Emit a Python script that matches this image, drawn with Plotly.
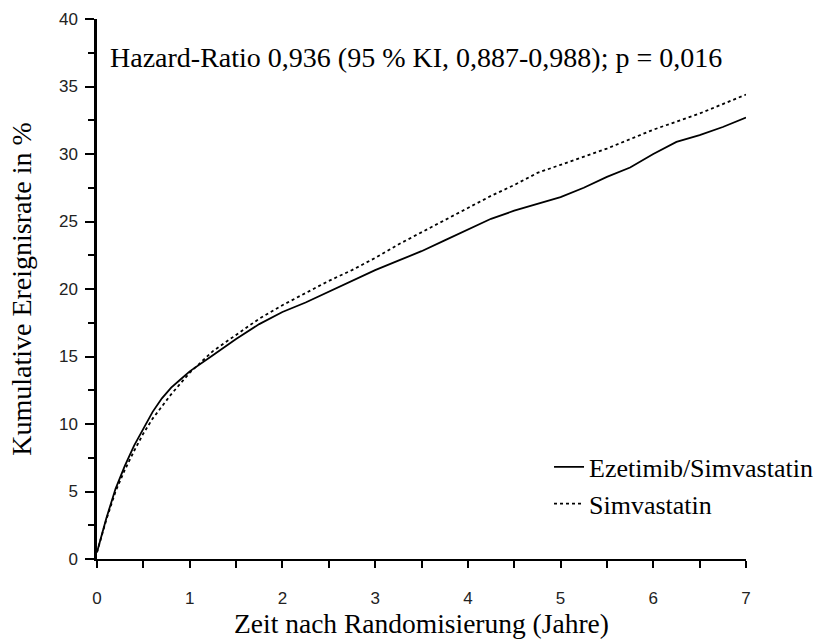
import plotly.graph_objects as go

years = [0, 0.05, 0.1, 0.2, 0.3, 0.4, 0.5, 0.6, 0.7, 0.8, 0.9, 1.0, 1.25, 1.5, 1.75,
         2.0, 2.25, 2.5, 2.75, 3.0, 3.25, 3.5, 3.75, 4.0, 4.25, 4.5, 4.75, 5.0,
         5.25, 5.5, 5.75, 6.0, 6.25, 6.5, 6.75, 7.0]
ezetimib_simvastatin = [0.5, 1.8, 3.0, 5.2, 6.9, 8.4, 9.7, 10.9, 11.9, 12.7, 13.3, 13.9,
                        15.1, 16.3, 17.4, 18.3, 19.0, 19.8, 20.6, 21.4, 22.1, 22.8, 23.6,
                        24.4, 25.2, 25.8, 26.3, 26.8, 27.5, 28.3, 29.0, 30.0, 30.9, 31.4,
                        32.0, 32.7]
simvastatin = [0.5, 1.7, 2.9, 5.0, 6.6, 8.0, 9.3, 10.4, 11.3, 12.2, 13.0, 13.8,
               15.4, 16.6, 17.8, 18.8, 19.7, 20.6, 21.4, 22.3, 23.3, 24.2, 25.1,
               26.0, 26.9, 27.7, 28.6, 29.2, 29.8, 30.4, 31.1, 31.8, 32.4, 33.0,
               33.7, 34.4]

serif = "Liberation Serif, Times New Roman, serif"
sans = "Liberation Sans, Arial, sans-serif"

fig = go.Figure()
fig.add_trace(go.Scatter(x=years, y=ezetimib_simvastatin, mode="lines",
                         name="Ezetimib/Simvastatin",
                         line=dict(color="black", width=1.8)))
fig.add_trace(go.Scatter(x=years, y=simvastatin, mode="lines",
                         name="Simvastatin",
                         line=dict(color="black", width=1.8, dash="3px,3px")))

fig.add_annotation(x=0.017, y=0.929, xref="paper", yref="paper",
                   xanchor="left", yanchor="middle", showarrow=False,
                   text="Hazard-Ratio 0,936 (95 % KI, 0,887-0,988); p = 0,016",
                   font=dict(family=serif, size=28, color="black"))

fig.update_layout(
    width=835, height=640,
    margin=dict(l=97, r=89, t=19, b=81),
    paper_bgcolor="white", plot_bgcolor="white",
    showlegend=True,
    legend=dict(x=0.6965, y=0.214, xanchor="left", yanchor="top",
                bgcolor="rgba(0,0,0,0)", font=dict(family=serif, size=26, color="black"),
                itemwidth=30, tracegroupgap=0),
)
fig.update_xaxes(range=[0, 7], dtick=1, tick0=0, showgrid=False, zeroline=False,
                 automargin=False,
                 showline=True, linecolor="black", linewidth=2,
                 ticks="outside", ticklen=7, tickwidth=2, tickcolor="black",
                 minor=dict(dtick=0.5, ticks="outside", ticklen=7, tickwidth=2,
                            tickcolor="black", showgrid=False),
                 ticklabelstandoff=16,
                 tickfont=dict(family=sans, size=17, color="#222"),
                 title=dict(text="Zeit nach Randomisierung (Jahre)",
                            font=dict(family=serif, size=27.5, color="black"), standoff=4))
fig.update_yaxes(range=[0, 40], dtick=5, tick0=0, showgrid=False, zeroline=False,
                 automargin=False,
                 showline=True, linecolor="black", linewidth=2.5,
                 ticks="outside", ticklen=9, tickwidth=2, tickcolor="black",
                 minor=dict(dtick=2.5, ticks="outside", ticklen=6, tickwidth=1.5,
                            tickcolor="black", showgrid=False),
                 ticklabelstandoff=4,
                 tickfont=dict(family=sans, size=17, color="#222"),
                 title=dict(text="Kumulative Ereignisrate in %",
                            font=dict(family=serif, size=28, color="black"), standoff=20))

fig.write_html("out.html", config={"displayModeBar": False},
               post_script="document.body.style.margin='0';document.body.style.overflow='hidden';")
